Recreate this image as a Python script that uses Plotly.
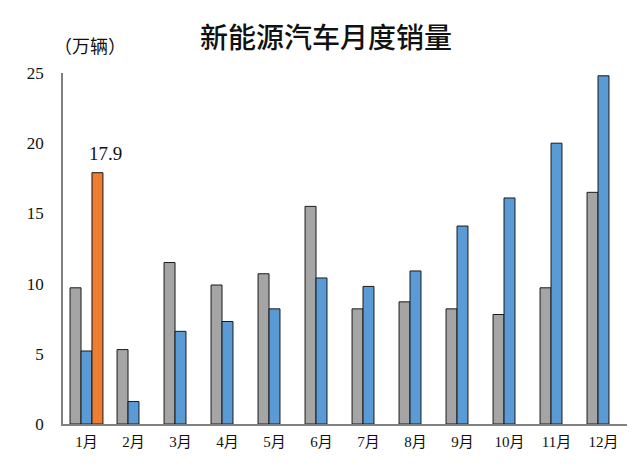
import plotly.graph_objects as go

months = ["1月", "2月", "3月", "4月", "5月", "6月", "7月", "8月", "9月", "10月", "11月", "12月"]
sales_2019 = [9.7, 5.3, 11.5, 9.9, 10.7, 15.5, 8.2, 8.7, 8.2, 7.8, 9.7, 16.5]
sales_2020 = [5.2, 1.6, 6.6, 7.3, 8.2, 10.4, 9.8, 10.9, 14.1, 16.1, 20.0, 24.8]
sales_2021 = [17.9, None, None, None, None, None, None, None, None, None, None, None]

fig = go.Figure()
fig.add_trace(go.Bar(x=months, y=sales_2019, name="2019",
                     marker=dict(color="#A5A5A5", line=dict(color="#1a1a1a", width=1))))
fig.add_trace(go.Bar(x=months, y=sales_2020, name="2020",
                     marker=dict(color="#5B9BD5", line=dict(color="#1a1a1a", width=1))))
fig.add_trace(go.Bar(x=months, y=sales_2021, name="2021",
                     marker=dict(color="#ED7D31", line=dict(color="#1a1a1a", width=1))))

fig.update_layout(
    width=632, height=461,
    margin=dict(l=55, r=13, t=65, b=45),
    paper_bgcolor="white", plot_bgcolor="white",
    barmode="group", bargap=0.3, bargroupgap=0,
    showlegend=False,
    title=dict(text="新能源汽车月度销量", x=0.503, xanchor="center", y=0.935, yanchor="middle",
               font=dict(family="Noto Sans CJK SC", size=28, color="#111", weight=500)),
    annotations=[
        dict(text="（万辆）", xref="paper", yref="paper", x=-0.02, y=1.08,
             xanchor="left", yanchor="middle", showarrow=False,
             font=dict(family="Noto Sans CJK SC", size=18, color="#111")),
        dict(text=f"{sales_2021[0]}", x=months[0], y=sales_2021[0], xref="x", yref="y",
             xshift=19, yshift=7, yanchor="bottom", showarrow=False,
             font=dict(family="Liberation Serif", size=19, color="#111")),
    ],
)
fig.update_xaxes(showline=True, linecolor="#808080", linewidth=1.5, ticks="",
                 tickfont=dict(family="Liberation Serif, Noto Sans CJK SC", size=15, color="#111"),
                 ticklabelstandoff=3)
fig.update_yaxes(range=[0, 25], dtick=5, showgrid=False, zeroline=False,
                 showline=True, linecolor="#808080", linewidth=1.5, ticks="",
                 tickfont=dict(family="Liberation Serif", size=17, color="#111"),
                 ticklabelstandoff=14)

fig.write_html("out.html")
